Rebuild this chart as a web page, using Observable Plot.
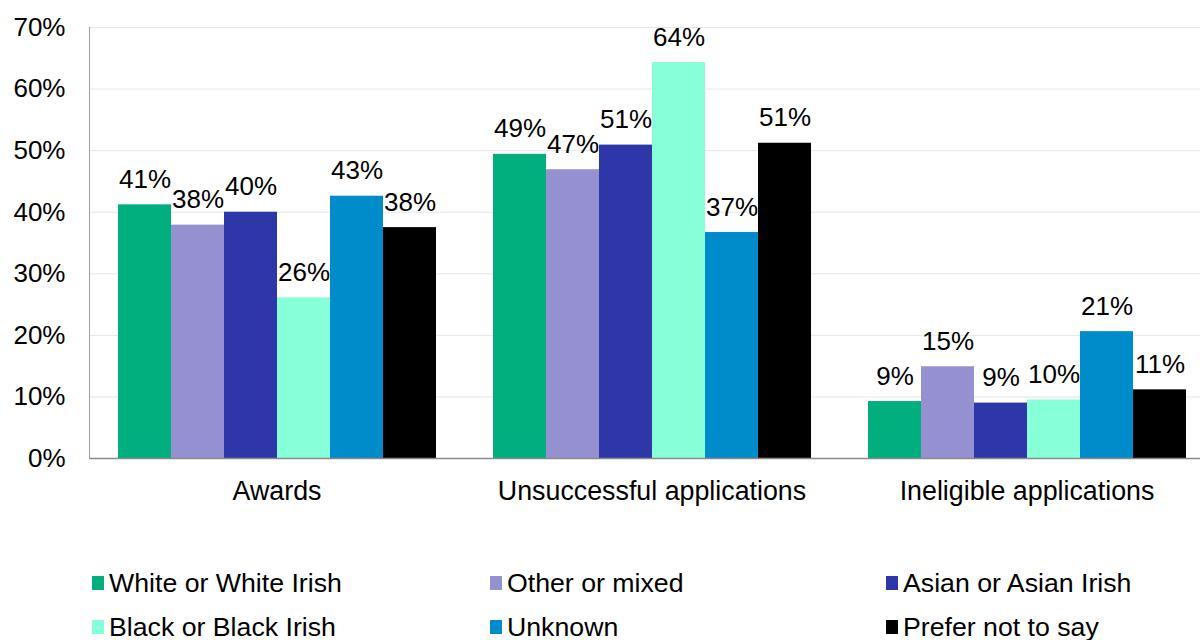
<!DOCTYPE html>
<html>
<head>
<meta charset="utf-8">
<script src="https://cdn.jsdelivr.net/npm/d3@7"></script>
<script src="https://cdn.jsdelivr.net/npm/@observablehq/plot@0.6"></script>
<style>
  html, body { margin: 0; padding: 0; background: #fff; }
  body { position: relative; width: 1200px; height: 640px; overflow: hidden; font-family: "Liberation Sans", Arial, sans-serif; }
  #chart svg { display: block; }
  .item { position: absolute; display: flex; align-items: center; font-size: 26.7px; color: #000; white-space: nowrap; height: 44px; }
  .sw { width: 12px; height: 14px; margin-right: 5px; flex: none; }
</style>
</head>
<body>
<div id="chart"></div>
<div id="legend"></div>
<script>
const categories = ["Awards", "Unsuccessful applications", "Ineligible applications"];
const groups = ["White or White Irish", "Other or mixed", "Asian or Asian Irish", "Black or Black Irish", "Unknown", "Prefer not to say"];
const awards = [41.2, 37.9, 40.0, 26.1, 42.6, 37.5];
const unsuccessful = [49.4, 46.9, 50.9, 64.3, 36.7, 51.2];
const ineligible = [9.25, 14.9, 9.0, 9.5, 20.6, 11.15];
const colors = ["#00AE7E", "#9590D0", "#2E37A8", "#87FFD9", "#008BCB", "#000000"];
const yTicks = [0, 10, 20, 30, 40, 50, 60, 70];

const series = [awards, unsuccessful, ineligible];
const data = categories.flatMap((cat, i) =>
  groups.map((g, j) => ({cat, group: g, value: series[i][j]}))
);

const fmt = d => d + "%";

const chart = Plot.plot({
  width: 1200,
  height: 520,
  marginLeft: 89,
  marginRight: -14,
  marginTop: 27,
  marginBottom: 62,
  style: {fontFamily: "'Liberation Sans', Arial, sans-serif", fontSize: "26px", color: "#000", background: "#fff"},
  fx: {domain: categories, padding: 0, label: null},
  x: {domain: groups, paddingInner: 0, paddingOuter: 0.5, axis: null},
  y: {domain: [0, 70], label: null},
  color: {domain: groups, range: colors},
  marks: [
    Plot.gridY(yTicks, {stroke: "#e6e6e6", strokeOpacity: 1}),
    Plot.barY(data, {fx: "cat", x: "group", y: "value", fill: "group"}),
    Plot.text(data, {fx: "cat", x: "group", y: "value", text: d => Math.round(d.value) + "%", lineAnchor: "bottom", dy: -17, fontSize: 26, fill: "#000"}),
    Plot.ruleY([0], {stroke: "#8a8a8a", strokeWidth: 1.5}),
    Plot.frame({anchor: "left", facetAnchor: "left", stroke: "#a0a0a0"}),
    Plot.axisY(yTicks, {tickSize: 0, tickPadding: 24, tickFormat: fmt, fontSize: 26}),
    Plot.axisFx({anchor: "bottom", tickSize: 0, tickPadding: 22, fontSize: 26.8, label: null})
  ]
});
document.getElementById("chart").appendChild(chart);

const legend = document.getElementById("legend");
const colX = [92, 490, 886];
const rowY = [583, 627];
groups.forEach((g, i) => {
  const it = document.createElement("div");
  it.className = "item";
  it.style.left = colX[i % 3] + "px";
  it.style.top = (rowY[Math.floor(i / 3)] - 22) + "px";
  const sw = document.createElement("span");
  sw.className = "sw";
  sw.style.background = colors[i];
  const tx = document.createElement("span");
  tx.textContent = g;
  it.appendChild(sw);
  it.appendChild(tx);
  legend.appendChild(it);
});
</script>
</body>
</html>
